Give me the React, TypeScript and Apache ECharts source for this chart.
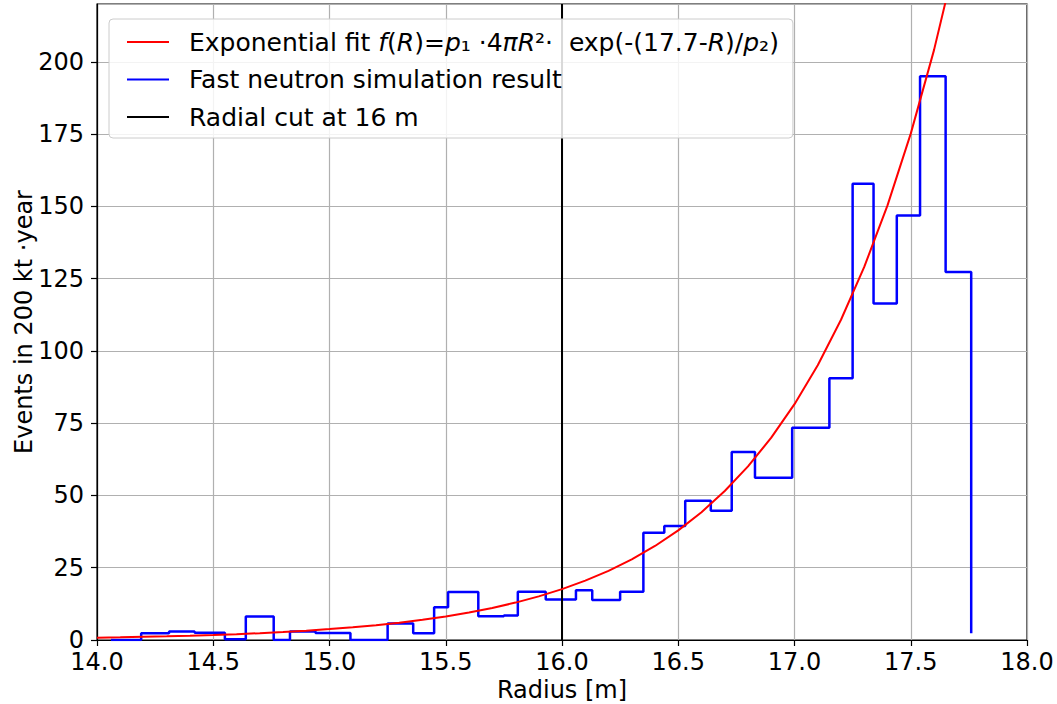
import React, { useEffect, useRef } from "react";
import * as echarts from "echarts";

// Histogram bin edges (Radius, m) and event counts per bin
const binEdges = [
  14.06, 14.19, 14.31, 14.42, 14.55, 14.64, 14.76, 14.83, 14.94, 15.09,
  15.25, 15.36, 15.45, 15.51, 15.64, 15.75, 15.81, 15.93, 16.06, 16.13,
  16.25, 16.35, 16.44, 16.53, 16.64, 16.73, 16.83, 16.99, 17.15, 17.25,
  17.34, 17.44, 17.54, 17.65, 17.76,
];
const binValues = [
  0, 2.3, 2.9, 2.5, 0.3, 8.1, 0, 2.9, 2.4, 0,
  5.7, 2.3, 11.3, 16.6, 8.2, 8.5, 16.7, 14.0, 17.2, 13.8,
  16.7, 37.1, 39.4, 48.2, 44.7, 65.0, 56.1, 73.4, 90.5, 157.8,
  116.4, 146.8, 195.0, 127.3,
];
const histEndValue = 2.3;

// Exponential fit curve
const fitRadius = [
  14.0, 14.1, 14.2, 14.3, 14.4, 14.5, 14.6, 14.7, 14.8, 14.9,
  15.0, 15.1, 15.2, 15.3, 15.4, 15.5, 15.6, 15.7, 15.8, 15.9,
  16.0, 16.1, 16.2, 16.3, 16.4, 16.5, 16.6, 16.7, 16.8, 16.9,
  17.0, 17.1, 17.2, 17.3, 17.4, 17.5, 17.6, 17.7,
];
const fitValues = [
  0.8, 0.93, 1.09, 1.27, 1.49, 1.74, 2.03, 2.37, 2.77, 3.23,
  3.77, 4.4, 5.13, 5.99, 6.99, 8.15, 9.51, 11.1, 12.94, 15.1,
  17.6, 20.52, 23.93, 27.9, 32.53, 37.93, 44.21, 51.53, 60.06, 70.0,
  81.58, 95.06, 110.77, 129.06, 150.36, 175.16, 204.05, 237.68,
];

const cutRadius = 16;
const yRange = [0, 220];
const xRange = [14, 18];

const fitName = "Exponential fit f(R)=p₁ ·4πR²·  exp(-(17.7-R)/p₂)";
const histName = "Fast neutron simulation result";
const cutName = "Radial cut at 16 m";

const FONT = "DejaVu Sans";

export default function App() {
  const ref = useRef<HTMLDivElement>(null);

  useEffect(() => {
    if (!ref.current) return;
    const chart = echarts.init(ref.current, undefined, { renderer: "svg" });

    const histData: number[][] = [];
    for (let i = 0; i < binValues.length; i++) {
      histData.push([binEdges[i], binValues[i]]);
      histData.push([binEdges[i + 1], binValues[i]]);
    }
    histData.push([binEdges[binEdges.length - 1], histEndValue]);

    const fitData = fitRadius.map((r, i) => [r, fitValues[i]]);
    const cutData = [
      [cutRadius, yRange[0]],
      [cutRadius, yRange[1]],
    ];

    chart.setOption({
      animation: false,
      backgroundColor: "#ffffff",
      textStyle: { fontFamily: FONT },
      grid: {
        left: 97,
        right: 30,
        top: 4,
        bottom: 64,
        show: true,
        containLabel: false,
        outerBoundsMode: "none",
        borderColor: "#000000",
        borderWidth: 1.2,
        backgroundColor: "transparent",
      },
      legend: {
        data: [fitName, histName, cutName],
        orient: "vertical",
        left: 109,
        top: 19,
        padding: [9, 14, 7, 18],
        itemGap: 9.5,
        itemWidth: 42,
        itemHeight: 2,
        icon: "rect",
        backgroundColor: "rgba(255,255,255,0.85)",
        borderColor: "#cccccc",
        borderWidth: 1,
        borderRadius: 4,
        textStyle: {
          fontFamily: FONT,
          fontSize: 25,
          color: "#000000",
          lineHeight: 28,
          padding: [0, 0, 0, 15],
          rich: {
            i: { fontStyle: "italic", fontFamily: FONT, fontSize: 25, color: "#000000", lineHeight: 28 },
          },
        },
        formatter: (name: string) => {
          if (name === fitName) {
            return "Exponential fit {i|f}({i|R})={i|p}₁ ·4{i|π}{i|R}²·  exp(-(17.7-{i|R})/{i|p}₂)";
          }
          return name;
        },
      },
      xAxis: {
        type: "value",
        min: xRange[0],
        max: xRange[1],
        interval: 0.5,
        name: "Radius [m]",
        nameLocation: "middle",
        nameGap: 37,
        nameMoveOverlap: false,
        nameTextStyle: { fontFamily: FONT, fontSize: 24, color: "#000000", lineHeight: 26 },
        axisLine: { show: true, onZero: false, lineStyle: { color: "#000000", width: 1.2 } },
        axisTick: { show: true, inside: false, length: 6, lineStyle: { color: "#000000", width: 1.2 } },
        axisLabel: {
          fontFamily: FONT,
          fontSize: 24,
          color: "#000000",
          margin: 10,
          formatter: (v: number) => v.toFixed(1),
        },
        splitLine: { show: true, lineStyle: { color: "#b0b0b0", width: 1.2 } },
      },
      yAxis: {
        type: "value",
        min: yRange[0],
        max: yRange[1],
        interval: 25,
        name: "Events in 200 kt ·year",
        nameLocation: "middle",
        nameGap: 60,
        nameMoveOverlap: false,
        nameTextStyle: { fontFamily: FONT, fontSize: 24, color: "#000000", lineHeight: 26 },
        axisLine: { show: true, onZero: false, lineStyle: { color: "#000000", width: 1.2 } },
        axisTick: { show: true, inside: false, length: 6, lineStyle: { color: "#000000", width: 1.2 } },
        axisLabel: {
          fontFamily: FONT,
          fontSize: 24,
          color: "#000000",
          margin: 13,
          showMaxLabel: false,
        },
        splitLine: { show: true, lineStyle: { color: "#b0b0b0", width: 1.2 } },
      },
      series: [
        {
          name: histName,
          type: "line",
          data: histData,
          showSymbol: false,
          symbol: "none",
          color: "#0000ff",
          lineStyle: { color: "#0000ff", width: 2.5 },
          z: 2,
        },
        {
          name: cutName,
          type: "line",
          data: cutData,
          showSymbol: false,
          symbol: "none",
          color: "#000000",
          lineStyle: { color: "#000000", width: 2 },
          z: 3,
        },
        {
          name: fitName,
          type: "line",
          data: fitData,
          showSymbol: false,
          symbol: "none",
          color: "#ff0000",
          lineStyle: { color: "#ff0000", width: 2 },
          clip: true,
          z: 4,
        },
      ],
    });

    return () => chart.dispose();
  }, []);

  return <div ref={ref} style={{ width: 1057, height: 704, position: "absolute", left: 0, top: 0 }} />;
}
